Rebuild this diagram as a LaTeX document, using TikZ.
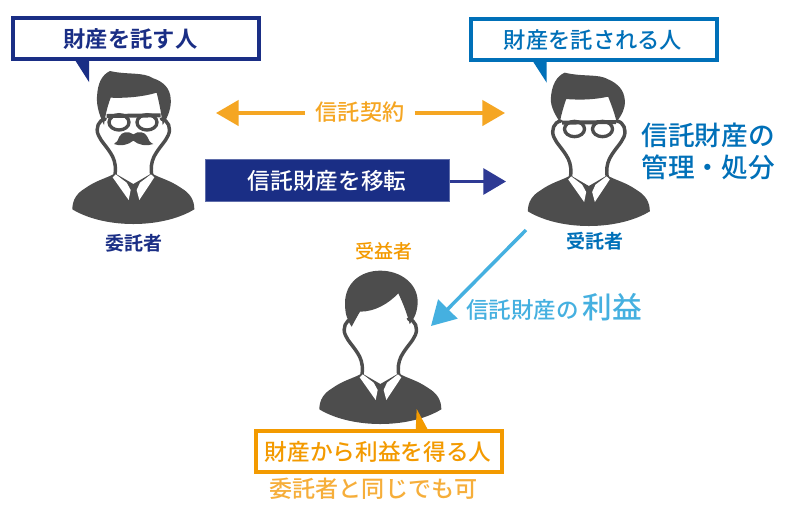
\documentclass[tikz,border=0pt]{standalone}
\usepackage{fontspec}
\usetikzlibrary{arrows.meta}
\newfontfamily\jpfont{Noto Sans CJK JP Medium}
\newfontfamily\jpbold{Noto Sans CJK JP Bold}
\definecolor{navy}{HTML}{1A2E85}
\definecolor{navyline}{HTML}{2E3A94}
\definecolor{bluec}{HTML}{0070B8}
\definecolor{orangec}{HTML}{F39A00}
\definecolor{goldc}{HTML}{F5A623}
\definecolor{lightorange}{HTML}{F6AE3A}
\definecolor{skyc}{HTML}{45B0E0}
\definecolor{darkp}{HTML}{4D4D4D}
\tikzset{
  lbl/.style={inner sep=0pt,font=\jpfont},
  callout/.style={draw=#1,line width=2.8pt,fill=white,inner sep=0pt,outer sep=0pt},
  tailc/.style={fill=#1,draw=none},
  dk/.style={fill=darkp,draw=none},
  strk/.style={draw=darkp,line width=2.6pt,line join=round,line cap=round},
  wht/.style={fill=white,draw=none},
}
\newcommand{\fsz}[1]{\fontsize{#1}{#1}\selectfont}
\newcommand{\personbase}{%
  % face outline
  \draw[strk] (316,357) .. controls (295,360) and (286,385) .. (295,405) .. controls (303,425) and (322,440) .. (338,470) .. controls (346,487) and (348,505) .. (345,525);
  \draw[strk] (484,357) .. controls (505,360) and (514,385) .. (505,405) .. controls (497,425) and (478,440) .. (462,470) .. controls (454,487) and (452,505) .. (455,525);
  % body
  \fill[dk] (345,520) .. controls (320,535) and (290,540) .. (255,565) .. controls (230,580) and (217,600) .. (217,628) .. controls (270,660) and (340,672) .. (400,672) .. controls (460,672) and (530,660) .. (583,628) .. controls (583,600) and (570,580) .. (545,565) .. controls (510,540) and (480,535) .. (455,520) -- (400,552) -- cycle;
  % collar
  \fill[wht] (347,523) -- (338,532) -- (386,600) -- (392,570) -- (380,548) -- cycle;
  \fill[wht] (453,523) -- (463,532) -- (418,600) -- (410,570) -- (420,548) -- cycle;
}
\newcommand{\glassesat}[1]{%
  \begin{scope}[yshift=-#1*0.25pt]
  \draw[darkp,line width=2.5pt,fill=white] (357,367) ellipse [x radius=30,y radius=23];
  \draw[darkp,line width=2.5pt,fill=white] (441,367) ellipse [x radius=30,y radius=23];
  \draw[darkp,line width=3pt] (320,348) -- (482,346);
  \end{scope}}
\newcommand{\personat}[3]{\begin{scope}[shift={(#1,#2)},x=0.25pt,y=-0.25pt]#3\end{scope}}
\begin{document}
\begin{tikzpicture}[x=0.75pt,y=-0.75pt]
\useasboundingbox (0,0) rectangle (800,512);
\fill[white] (0,0) rectangle (800,512);
% person 1
\personat{0}{0}{\personbase
  \fill[dk] (330,213) .. controls (305,225) and (293,250) .. (291,290) .. controls (289,320) and (300,350) .. (312,375) .. controls (316,345) and (322,320) .. (332,293) .. controls (380,295) and (430,290) .. (470,278) .. controls (478,310) and (485,345) .. (488,375) .. controls (505,350) and (515,320) .. (512,295) .. controls (510,265) and (490,245) .. (460,235) .. controls (430,215) and (380,225) .. (330,213) -- cycle;
  \glassesat{0}
  \fill[dk] (400,403) .. controls (385,392) and (365,395) .. (358,410) .. controls (355,420) and (350,428) .. (342,432) .. controls (360,440) and (385,435) .. (400,422) .. controls (415,435) and (440,440) .. (460,432) .. controls (450,428) and (445,420) .. (442,410) .. controls (435,395) and (415,392) .. (400,403) -- cycle;
}
% person 2
\personat{455.5}{2}{\personbase
  \fill[dk] (328,212) .. controls (303,222) and (288,250) .. (286,290) .. controls (285,315) and (300,340) .. (313,360) .. controls (318,335) and (324,315) .. (332,291) .. controls (380,295) and (420,292) .. (458,284) .. controls (468,310) and (478,335) .. (483,360) .. controls (498,340) and (510,320) .. (508,295) .. controls (506,265) and (488,245) .. (458,232) .. controls (430,215) and (380,225) .. (328,212) -- cycle;
  \glassesat{14}
}
% person 3
\personat{247}{200}{\personbase
  \fill[dk] (400,212) .. controls (340,212) and (294,250) .. (294,310) .. controls (294,340) and (300,360) .. (314,380) .. controls (322,365) and (330,350) .. (339,335) .. controls (385,335) and (425,310) .. (454,280) .. controls (468,310) and (480,340) .. (488,372) .. controls (504,355) and (512,330) .. (512,305) .. controls (512,250) and (460,212) .. (400,212) -- cycle;
}
% callouts
\fill[tailc=navy] (75,60) -- (89,60) -- (89,82) -- cycle;
\node[callout=navy,minimum width=184.5pt,minimum height=30.9pt,anchor=north west] (giver) at (13,18) {};
\node[lbl,text=navy,font=\jpbold\fsz{16.7}] (giverT) at (130.5,39) {財産を託す人};
\fill[tailc=bluec] (532.7,61) -- (546.7,61) -- (546.7,82.7) -- cycle;
\node[callout=bluec,minimum width=184.5pt,minimum height=30.9pt,anchor=north west] (trustee) at (471,19) {};
\node[lbl,text=bluec,font=\jpfont\fsz{16.7}] (trusteeT) at (593,40) {財産を託される人};
\fill[tailc=orangec] (416.7,409) -- (428,430) -- (415.7,430) -- cycle;
\node[callout=orangec,minimum width=184.5pt,minimum height=30.9pt,anchor=north west] (benef) at (256,431) {};
\node[lbl,text=orangec,font=\jpfont\fsz{17}] (benefT) at (378,452) {財産から利益を得る人};
% labels
\node[lbl,text=navy,font=\jpbold\fsz{14.25}] (settlor) at (134,243) {委託者};
\node[lbl,text=bluec,font=\jpbold\fsz{14.25}] (trust) at (594.5,241) {受託者};
\node[lbl,text=orangec,font=\jpfont\fsz{14.25}] (bene) at (383.5,251) {受益者};
\node[lbl,text=bluec,font=\jpfont\fsz{20}] (mg1) at (708,135) {信託財産の};
\node[lbl,text=bluec,font=\jpfont\fsz{20}] (mg2) at (708,167) {管理・処分};
\node[lbl,text=lightorange,font=\jpfont\fsz{17.3}] (same) at (373.5,489) {委託者と同じでも可};
\node[lbl,text=skyc,anchor=base west] (profit) at (466,318) {\fsz{16.9}信託財産の\hspace{2.5pt}\fsz{22.3}利益};
% arrows
\node[lbl,text=goldc,font=\jpfont\fsz{16.6},minimum width=82pt] (contract) at (360,112) {信託契約};
\coordinate (gl) at (216,113);
\coordinate (gr) at (505,113);
\draw[goldc,line width=2.6pt,-{Triangle[length=17pt,width=19pt]}] (contract.west |- gl) -- (gl);
\draw[goldc,line width=2.6pt,-{Triangle[length=17pt,width=19pt]}] (contract.east |- gr) -- (gr);
\node[fill=navy,draw=navy!70!white,line width=0.4pt,outer sep=0pt,minimum width=183pt,minimum height=31.2pt,inner sep=0pt,anchor=north west] (move) at (205.7,159.5) {};
\node[lbl,text=white,font=\jpfont\fsz{17}] (moveT) at (327,181) {信託財産を移転};
\coordinate (mv) at (506,181.5);
\draw[navyline,line width=2.2pt,-{Triangle[length=17pt,width=19.5pt]}] (move.east |- mv) -- (mv);
\coordinate (ss) at (526,230);
\coordinate (se) at (431,326);
\draw[skyc,line width=2.6pt,-{Triangle[length=18pt,width=20pt]}] (ss) -- (se);
\end{tikzpicture}
\end{document}
